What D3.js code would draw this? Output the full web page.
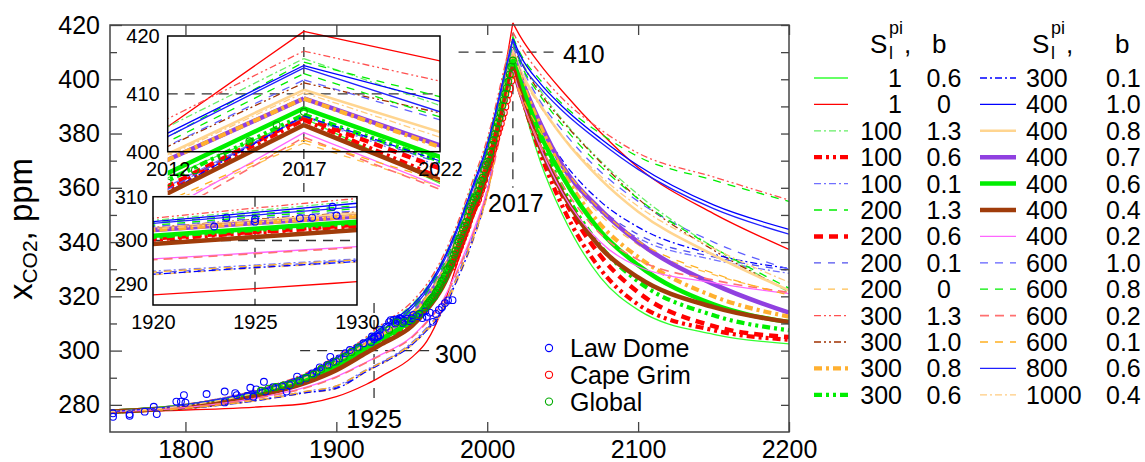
<!DOCTYPE html>
<html>
<head>
<meta charset="utf-8">
<script src="https://cdn.jsdelivr.net/npm/d3@7"></script>
<style>
  body { margin: 0; background: #fff; }
  svg { font-family: "Liberation Sans", Arial, Helvetica, sans-serif; }
</style>
</head>
<body>
<svg id="chart" width="1145" height="462"></svg>
<script>
// ---- data ----
const years = [1750, 1800, 1850, 1880, 1900, 1920, 1925, 1930, 1950, 1960, 1970, 1980, 1990, 2000, 2012, 2017, 2022, 2035, 2050, 2075, 2100, 2150, 2200];

const c1_06    = [277.5, 279.5, 284.3, 289.2, 294.0, 300.8, 302.4, 304.0, 311.0, 317.0, 325.5, 337.5, 352.0, 368.0, 395.5, 405.8, 394.5, 370.0, 350.0, 327.0, 315.0, 306.0, 302.5];
const c1_0     = [277.5, 278.1, 279.3, 280.5, 283.0, 287.6, 289.0, 290.6, 297.5, 303.5, 315.0, 332.0, 349.0, 371.0, 404.3, 420.8, 415.7, 405.5, 395.5, 380.5, 367.5, 350.5, 337.3];
const c100_13  = [277.5, 280.1, 285.8, 291.5, 297.5, 304.6, 306.8, 309.0, 317.0, 323.5, 333.0, 345.5, 361.0, 377.0, 404.3, 416.1, 408.0, 396.0, 385.0, 370.0, 357.5, 338.0, 321.5];
const c100_06  = [277.5, 279.4, 284.0, 288.8, 293.5, 300.2, 301.8, 303.3, 310.0, 316.0, 324.0, 336.0, 350.5, 366.5, 393.5, 405.5, 395.5, 373.0, 353.0, 330.0, 317.0, 307.5, 304.0];
const c100_01  = [277.5, 278.7, 282.0, 285.0, 287.0, 293.0, 294.4, 295.8, 303.0, 308.5, 315.5, 327.5, 342.0, 359.5, 394.0, 406.0, 397.5, 381.0, 367.0, 351.0, 341.5, 333.5, 328.5];
const c200_13  = [277.5, 280.0, 285.6, 291.0, 297.0, 304.0, 306.0, 308.0, 316.0, 322.5, 332.0, 344.5, 359.5, 375.5, 402.5, 415.5, 409.5, 399.8, 390.8, 380.0, 371.5, 362.8, 355.0];
const c200_06  = [277.5, 279.4, 284.1, 289.0, 293.8, 300.5, 302.0, 303.6, 310.5, 316.5, 324.5, 336.5, 351.0, 367.0, 394.0, 405.9, 397.1, 376.0, 357.0, 335.0, 321.5, 309.0, 305.0];
const c200_01  = [277.5, 278.6, 281.9, 284.7, 286.5, 292.6, 294.0, 295.5, 302.5, 308.0, 314.8, 326.8, 341.0, 358.8, 393.5, 406.1, 398.0, 382.0, 368.5, 352.5, 342.8, 334.5, 329.5];
const c200_0   = [277.5, 278.6, 281.7, 284.4, 286.0, 292.2, 293.7, 295.1, 302.0, 307.3, 313.8, 325.5, 339.5, 357.0, 391.0, 401.5, 394.0, 379.0, 366.0, 350.0, 339.0, 328.0, 321.0];
const c300_13  = [277.5, 280.2, 286.0, 291.8, 298.0, 305.1, 307.4, 309.6, 318.0, 324.5, 334.0, 346.5, 362.0, 378.0, 405.7, 417.4, 412.2, 402.1, 392.8, 381.5, 372.8, 364.0, 355.5];
const c300_10  = [277.5, 279.8, 285.1, 290.4, 296.0, 303.0, 304.8, 306.5, 314.0, 320.5, 329.5, 342.0, 357.0, 373.0, 400.9, 411.9, 406.7, 395.0, 384.5, 369.5, 356.0, 337.0, 322.0];
const c300_08  = [277.5, 279.6, 285.0, 290.2, 295.5, 302.4, 304.0, 305.5, 313.0, 319.3, 328.0, 340.0, 355.0, 371.0, 398.6, 409.2, 400.8, 383.0, 366.0, 346.5, 334.5, 320.0, 312.5];
const c300_06  = [277.5, 279.5, 284.3, 289.2, 294.2, 300.8, 302.4, 304.0, 311.0, 317.0, 325.5, 337.5, 352.0, 368.0, 395.0, 406.4, 398.4, 378.0, 360.0, 338.5, 325.5, 313.0, 307.5];
const c300_01  = [277.5, 278.6, 281.8, 284.5, 286.1, 292.3, 293.8, 295.2, 302.1, 307.5, 314.0, 326.0, 340.0, 358.0, 393.0, 406.2, 398.4, 383.0, 370.0, 355.0, 345.5, 335.5, 330.3];
const c400_10  = [277.5, 280.0, 285.7, 291.3, 297.3, 304.3, 306.4, 308.5, 316.5, 323.0, 332.5, 345.0, 360.0, 376.0, 403.2, 414.9, 408.7, 398.6, 389.9, 378.2, 368.2, 353.7, 344.7];
const c400_08  = [277.5, 279.7, 285.0, 290.3, 295.8, 302.8, 304.5, 306.2, 313.5, 320.0, 329.0, 341.0, 356.0, 372.0, 399.6, 410.7, 403.4, 390.7, 378.7, 363.2, 351.2, 335.2, 322.2];
const c400_07  = [277.5, 279.6, 285.0, 290.2, 295.5, 302.4, 304.0, 305.5, 313.0, 319.3, 328.0, 340.0, 355.0, 371.0, 398.6, 409.2, 401.1, 384.0, 368.0, 352.0, 340.0, 324.5, 314.0];
const c400_06  = [277.5, 279.5, 284.5, 289.5, 294.5, 301.1, 302.7, 304.3, 311.5, 317.5, 326.0, 338.0, 353.0, 369.0, 396.3, 407.5, 399.1, 380.0, 364.0, 344.0, 331.5, 317.0, 310.5];
const c400_04  = [277.5, 279.2, 283.6, 288.2, 292.8, 299.2, 300.8, 302.4, 309.0, 315.0, 323.0, 335.0, 349.5, 365.5, 392.8, 404.6, 395.1, 375.0, 358.0, 338.0, 327.0, 316.0, 310.5];
const c400_02  = [277.5, 279.0, 282.8, 286.5, 290.4, 295.8, 297.2, 298.6, 305.1, 310.8, 318.0, 329.5, 343.0, 359.0, 390.0, 403.3, 394.0, 375.0, 358.0, 340.0, 331.0, 325.0, 321.0];
const c600_10  = [277.5, 279.9, 285.2, 290.5, 296.3, 303.2, 305.0, 306.8, 314.5, 321.0, 330.0, 342.5, 357.5, 373.5, 401.0, 412.4, 405.5, 392.0, 381.0, 366.0, 355.0, 340.0, 330.0];
const c600_08  = [277.5, 279.9, 285.3, 290.7, 296.5, 303.5, 305.4, 307.3, 315.0, 321.5, 330.5, 343.0, 358.0, 374.0, 401.7, 413.5, 406.0, 394.0, 383.0, 368.0, 356.0, 338.0, 323.0];
const c600_02  = [277.5, 279.0, 282.7, 286.3, 290.2, 295.6, 297.0, 298.4, 304.8, 310.5, 317.5, 328.8, 342.0, 358.0, 389.0, 402.5, 393.5, 376.0, 361.0, 343.0, 333.5, 326.0, 321.5];
const c600_01  = [277.5, 278.7, 282.0, 285.0, 287.0, 292.8, 294.2, 295.6, 302.6, 308.0, 315.0, 326.8, 340.5, 357.5, 391.5, 402.0, 395.0, 381.0, 368.0, 352.0, 340.5, 328.5, 320.5];
const c800_06  = [277.5, 280.0, 285.5, 291.0, 297.0, 303.9, 305.8, 307.7, 315.5, 322.0, 331.5, 344.0, 359.0, 375.0, 402.6, 414.5, 406.9, 396.9, 388.3, 376.8, 366.8, 352.3, 342.9];
const c1000_04 = [277.5, 279.7, 284.9, 290.1, 295.6, 302.6, 304.2, 305.8, 313.0, 319.3, 328.5, 340.5, 355.5, 371.5, 399.3, 410.2, 402.5, 390.1, 378.9, 364.4, 353.2, 337.7, 325.2];

const legendS = ['1', '1', '100', '100', '100', '200', '200', '200', '200', '300', '300', '300', '300',
                 '300', '400', '400', '400', '400', '400', '400', '600', '600', '600', '600', '800', '1000'];
const legendB = ['0.6', '0', '1.3', '0.6', '0.1', '1.3', '0.6', '0.1', '0', '1.3', '1.0', '0.8', '0.6',
                 '0.1', '1.0', '0.8', '0.7', '0.6', '0.4', '0.2', '1.0', '0.8', '0.2', '0.1', '0.6', '0.4'];

// Law Dome ice core
const ldYear = [1752, 1752, 1763, 1763, 1773, 1779, 1781, 1794, 1797, 1799, 1800, 1814, 1826, 1826, 1833, 1834, 1841, 1843, 1845, 1847,
                1852, 1853, 1858, 1864, 1867, 1869, 1874, 1876, 1880, 1884, 1887, 1889, 1894, 1896, 1898, 1902, 1906, 1909, 1914, 1918,
                1923, 1923.6, 1925, 1925, 1927.2, 1927.8, 1928.8, 1929, 1933, 1935, 1936, 1938, 1939, 1940, 1941, 1942, 1943, 1944, 1945, 1947,
                1948, 1950, 1951, 1953, 1955, 1957, 1959, 1960, 1962, 1964, 1966, 1968, 1970, 1972, 1974, 1977];
const ldCO2 = [276.9, 275.6, 276.6, 276.0, 277.5, 279.3, 276.6, 281.2, 281.2, 283.6, 280.8, 284.0, 284.9, 280.9, 284.3, 283.6, 283.3, 286.3, 283.0, 285.7,
               288.5, 284.9, 286.5, 286.9, 284.9, 287.3, 290.4, 288.9, 289.8, 291.6, 292.2, 293.8, 294.7, 297.7, 295.9, 297.1, 299.0, 300.2, 301.2, 302.7,
               303.2, 305.2, 304.9, 304.3, 305.1, 305.2, 307.7, 305.7, 308.8, 310.5, 311.2, 311.3, 310.0, 311.5, 310.9, 311.9, 311.6, 310.2, 311.0, 311.8,
               310.9, 311.9, 313.1, 312.7, 313.5, 312.0, 314.5, 312.5, 314.0, 310.6, 313.5, 315.0, 316.0, 317.5, 318.5, 318.6];

// Cape Grim station
const cgYear = d3.range(1977, 2018);
const cgCO2 = [331.0, 332.5, 334.0, 335.5, 337.0, 338.5, 340.0, 341.5, 343.0, 344.5, 346.0, 348.0, 349.8, 351.3, 352.6, 353.8, 354.5, 355.8, 357.6, 359.3,
               360.8, 363.0, 365.3, 366.9, 368.5, 370.2, 372.4, 374.3, 376.3, 378.3, 380.2, 382.0, 383.7, 385.8, 387.7, 389.9, 392.3, 394.5, 396.6, 399.5, 402.0];

// Global mean
const glYear = [1850, 1855, 1860, 1865, 1870, 1875, 1880, 1885, 1890, 1895, 1900, 1905, 1910, 1915, 1935, 1940, 1945, 1950, 1955].concat(d3.range(1959, 2018));
const glCO2 = [285.2, 286.0, 286.6, 287.2, 287.8, 288.7, 290.0, 291.2, 293.2, 294.6, 296.0, 297.7, 299.5, 301.2, 307.6, 310.4, 310.5, 311.3, 313.3,
               315.9, 316.9, 317.6, 318.4, 319.0, 319.6, 320.0, 321.4, 322.2, 323.0, 324.6, 325.7, 326.3, 327.5, 329.7, 330.2, 331.1, 332.0, 333.8, 335.4,
               336.8, 338.7, 340.1, 341.4, 343.0, 344.6, 346.0, 347.4, 349.2, 351.6, 353.1, 354.4, 355.6, 356.4, 357.1, 358.8, 360.8, 362.6, 363.7, 366.7,
               368.4, 369.6, 371.1, 373.2, 375.8, 377.5, 379.8, 381.9, 383.8, 385.6, 387.4, 390.3, 392.3, 394.7, 396.8, 399.1, 401.8, 404.6, 406.9];

const mainYTicks = [280, 300, 320, 340, 360, 380, 400, 420];
const mainYMinor = [290, 310, 330, 350, 370, 390, 410];
const mainXTicks = [1800, 1900, 2000, 2100, 2200];

const curves = [c1_06, c1_0, c100_13, c100_06, c100_01, c200_13, c200_06, c200_01, c200_0, c300_13, c300_10, c300_08, c300_06,
                c300_01, c400_10, c400_08, c400_07, c400_06, c400_04, c400_02, c600_10, c600_08, c600_02, c600_01, c800_06, c1000_04];

// line styles, same order as curves
const styles = [
  { color: '#33ff33', width: 1.3, dash: null },
  { color: '#ff0000', width: 1.3, dash: null },
  { color: '#66ee66', width: 1.3, dash: '7,3,2,3' },
  { color: '#ff0000', width: 4.2, dash: '8,4,3,4,3,4' },
  { color: '#7070ff', width: 1.3, dash: '7,3,2,3' },
  { color: '#00ee00', width: 1.3, dash: '8,7' },
  { color: '#ff0000', width: 4.5, dash: '9,6' },
  { color: '#5050ee', width: 1.3, dash: '7,7' },
  { color: '#ffbf50', width: 1.3, dash: '7,7' },
  { color: '#ff5050', width: 1.3, dash: '7,3,2,3,2,3' },
  { color: '#a03000', width: 1.3, dash: '7,3,2,3,2,3' },
  { color: '#ffb030', width: 4.2, dash: '8,4,3,4' },
  { color: '#00ee00', width: 4.2, dash: '8,4,3,4,3,4' },
  { color: '#0000ff', width: 1.3, dash: '7,3,2,3' },
  { color: '#0000ff', width: 1.3, dash: null },
  { color: '#ffd590', width: 2.6, dash: null },
  { color: '#9040e0', width: 4.5, dash: null },
  { color: '#00ee00', width: 4.5, dash: null },
  { color: '#a03c0a', width: 4.5, dash: null },
  { color: '#ff66ff', width: 1.3, dash: null },
  { color: '#6060ff', width: 1.3, dash: '8,7' },
  { color: '#00ee00', width: 1.3, dash: '8,7' },
  { color: '#ff7070', width: 1.6, dash: '9,6' },
  { color: '#ffb020', width: 1.3, dash: '8,7' },
  { color: '#2020ff', width: 1.3, dash: null },
  { color: '#ffcc80', width: 1.3, dash: '7,3,2,3' }
];
// orange dash-dot drawn over the purple line
const drawOrder = [0, 1, 2, 3, 4, 5, 6, 7, 8, 9, 10, 12, 13, 14, 15, 16, 11, 17, 18, 19, 20, 21, 22, 23, 24, 25];

// ---- scales ----
const x = d3.scaleLinear().domain([1750, 2200]).range([110, 789]);
const y = d3.scaleLinear().domain([270, 420]).range([432, 25]);
const x1 = d3.scaleLinear().domain([2012, 2022]).range([167.7, 440]);
const y1 = d3.scaleLinear().domain([400, 420]).range([151.7, 36]);
const x2 = d3.scaleLinear().domain([1920, 1930]).range([153, 357]);
const y2 = d3.scaleLinear().domain([290, 310]).range([284.3, 196.7]);
const in2Bottom = y2(290) + 20.7;

const svg = d3.select('#chart');
const defs = svg.append('defs');
function addClip(id, x0, y0, w, h) {
  defs.append('clipPath').attr('id', id).append('rect')
    .attr('x', x0).attr('y', y0).attr('width', w).attr('height', h);
}
addClip('cMain', x(1750), 0, x(2200) - x(1750), y(270));
addClip('cIn1', x1(2012), 0, x1(2022) - x1(2012), 195);
addClip('cIn2', x2(1920), y2(310), x2(1930) - x2(1920), in2Bottom - y2(310));

// rise and decline drawn as two pieces so the 2017 peak stays sharp
function curvePath(vals, xs, ys, curve) {
  const pts = years.map((yr, i) => [xs(yr), ys(vals[i])]);
  const k = years.indexOf(2017);
  const line = d3.line().curve(curve);
  return line(pts.slice(0, k + 1)) + line(pts.slice(k));
}

function drawCurves(xs, ys, curve, clipId) {
  const g = svg.append('g').attr('clip-path', `url(#${clipId})`);
  drawOrder.forEach(i => {
    const st = styles[i];
    g.append('path')
      .attr('d', curvePath(curves[i], xs, ys, curve))
      .attr('fill', 'none')
      .attr('stroke', st.color)
      .attr('stroke-width', st.width)
      .attr('stroke-dasharray', st.dash);
  });
}

function drawDots(yrs, vals, color, xs, ys, clipId) {
  const g = svg.append('g').attr('clip-path', `url(#${clipId})`);
  g.selectAll('circle').data(yrs.map((yr, i) => [yr, vals[i]])).join('circle')
    .attr('cx', d => xs(d[0])).attr('cy', d => ys(d[1])).attr('r', 3.4)
    .attr('fill', 'none').attr('stroke', color).attr('stroke-width', 1.1);
}

function dashed(xa, ya, xb, yb) {
  svg.append('line').attr('x1', xa).attr('y1', ya).attr('x2', xb).attr('y2', yb)
    .attr('stroke', '#333').attr('stroke-width', 1.3).attr('stroke-dasharray', '10,7');
}

function label(txt, xp, yp, size, anchor) {
  svg.append('text').attr('x', xp).attr('y', yp).attr('font-size', size)
    .attr('text-anchor', anchor || 'start').attr('fill', '#000').text(txt);
}

// ---- main plot ----
dashed(x(1981), y(410), x(2047), y(410));
dashed(x(2017), y(417), x(2017), y(360));
dashed(x(1876), y(300), x(1963), y(300));
dashed(x(1925), y(317.5), x(1925), y(280.7));

drawCurves(x, y, d3.curveMonotoneX, 'cMain');
drawDots(ldYear, ldCO2, '#0000ff', x, y, 'cMain');
drawDots(cgYear, cgCO2, '#ff0000', x, y, 'cMain');
drawDots(glYear, glCO2, '#00aa00', x, y, 'cMain');

label('410', 563, 63, 25);
label('2017', x(2019), 212, 25, 'middle');
label('300', 435, 363, 25);
label('1925', x(1925), 428, 25, 'middle');

svg.append('rect').attr('x', x(1750)).attr('y', y(420)).attr('width', x(2200) - x(1750)).attr('height', y(270) - y(420))
  .attr('fill', 'none').attr('stroke', '#444').attr('stroke-width', 1.5);

function styleAxis(g, size) {
  g.select('.domain').remove();
  g.attr('font-family', null).attr('font-size', size).attr('color', '#000');
  g.selectAll('line').attr('stroke', '#444').attr('stroke-width', 1.3);
}

svg.append('g').attr('transform', `translate(0,${y(270)})`)
  .call(d3.axisBottom(x).tickValues(mainXTicks).tickSize(-10).tickPadding(8).tickFormat(d3.format('d')))
  .call(g => styleAxis(g, 25));
svg.append('g').attr('transform', `translate(0,${y(420)})`)
  .call(d3.axisTop(x).tickValues(mainXTicks).tickSize(-10).tickFormat(''))
  .call(g => styleAxis(g, 25));
svg.append('g').attr('transform', `translate(${x(1750)},0)`)
  .call(d3.axisLeft(y).tickValues(mainYTicks).tickSize(-12).tickPadding(10).tickFormat(d3.format('d')))
  .call(g => styleAxis(g, 25));
svg.append('g').attr('transform', `translate(${x(1750)},0)`)
  .call(d3.axisLeft(y).tickValues(mainYMinor).tickSize(-7).tickFormat(''))
  .call(g => styleAxis(g, 25));
svg.append('g').attr('transform', `translate(${x(2200)},0)`)
  .call(d3.axisRight(y).tickValues(mainYTicks.concat(mainYMinor)).tickSize(-8).tickFormat(''))
  .call(g => styleAxis(g, 25));

// y axis title
const yt = svg.append('text').attr('transform', 'translate(32,229) rotate(-90)')
  .attr('text-anchor', 'middle').attr('fill', '#000').attr('font-size', 33);
yt.append('tspan').text('x');
yt.append('tspan').attr('font-size', 21).attr('dy', 5).text('CO2');
yt.append('tspan').attr('dy', -5).text(', ppm');

// data legend
const dotNames = ['Law Dome', 'Cape Grim', 'Global'];
const dotColors = ['#0000ff', '#ff0000', '#00aa00'];
dotNames.forEach((n, i) => {
  const cy = 348 + i * 26.8;
  svg.append('circle').attr('cx', 549).attr('cy', cy).attr('r', 3.6)
    .attr('fill', 'none').attr('stroke', dotColors[i]).attr('stroke-width', 1.1);
  label(n, 570, cy + 9, 25);
});

// ---- inset 1: 2012-2022 ----
svg.append('rect').attr('x', x1(2012)).attr('y', y1(420)).attr('width', x1(2022) - x1(2012)).attr('height', y1(400) - y1(420))
  .attr('fill', '#fff');
dashed(x1(2012), y1(410), x1(2022), y1(410));
dashed(x1(2017), 30, x1(2017), 192);
drawCurves(x1, y1, d3.curveLinear, 'cIn1');
drawDots(glYear, glCO2, '#00aa00', x1, y1, 'cIn1');
svg.append('rect').attr('x', x1(2012)).attr('y', y1(420)).attr('width', x1(2022) - x1(2012)).attr('height', y1(400) - y1(420))
  .attr('fill', 'none').attr('stroke', '#000').attr('stroke-width', 1.5);
svg.append('g').attr('transform', `translate(${x1(2012)},0)`)
  .call(d3.axisLeft(y1).tickValues([400, 410, 420]).tickSize(0).tickPadding(8))
  .call(g => styleAxis(g, 20));
svg.append('g').attr('transform', `translate(0,${y1(400)})`)
  .call(d3.axisBottom(x1).tickValues([2012, 2017, 2022]).tickSize(0).tickPadding(10).tickFormat(d3.format('d')))
  .call(g => styleAxis(g, 20));

// ---- inset 2: 1920-1930 ----
svg.append('rect').attr('x', x2(1920)).attr('y', y2(310)).attr('width', x2(1930) - x2(1920)).attr('height', in2Bottom - y2(310))
  .attr('fill', '#fff');
dashed(x2(1920), y2(300), x2(1930), y2(300));
dashed(x2(1925), y2(310), x2(1925), in2Bottom);
drawCurves(x2, y2, d3.curveMonotoneX, 'cIn2');
drawDots(ldYear, ldCO2, '#0000ff', x2, y2, 'cIn2');
svg.append('rect').attr('x', x2(1920)).attr('y', y2(310)).attr('width', x2(1930) - x2(1920)).attr('height', in2Bottom - y2(310))
  .attr('fill', 'none').attr('stroke', '#000').attr('stroke-width', 1.5);
svg.append('g').attr('transform', `translate(${x2(1920)},0)`)
  .call(d3.axisLeft(y2).tickValues([290, 300, 310]).tickSize(0).tickPadding(5))
  .call(g => styleAxis(g, 20));
svg.append('g').attr('transform', `translate(0,${in2Bottom})`)
  .call(d3.axisBottom(x2).tickValues([1920, 1925, 1930]).tickSize(0).tickPadding(10).tickFormat(d3.format('d')))
  .call(g => styleAxis(g, 20));

// ---- parameter legend ----
function header(xs, xb) {
  label('S', xs, 53, 26);
  label('pi', xs + 19, 34, 18);
  label('l', xs + 19, 59, 18);
  label(',', xs + 34, 53, 26);
  label('b', xb, 53, 26);
}
header(870, 932);
header(1032, 1115);

const rowY0 = 78, rowStep = 26.4;
curves.forEach((c, i) => {
  const col = i < 13 ? 0 : 1;
  const row = i % 13;
  const cy = rowY0 + row * rowStep;
  const st = styles[i];
  const lx = col === 0 ? [814, 848] : [980, 1016];
  svg.append('line').attr('x1', lx[0]).attr('x2', lx[1]).attr('y1', cy).attr('y2', cy)
    .attr('stroke', st.color).attr('stroke-width', st.width).attr('stroke-dasharray', st.dash);
  if (col === 0) {
    label(legendS[i], 902, cy + 9, 25, 'end');
    label(legendB[i], 944, cy + 9, 25, 'middle');
  } else {
    label(legendS[i], 1026, cy + 9, 25);
    label(legendB[i], 1106, cy + 9, 25);
  }
});
</script>
</body>
</html>
